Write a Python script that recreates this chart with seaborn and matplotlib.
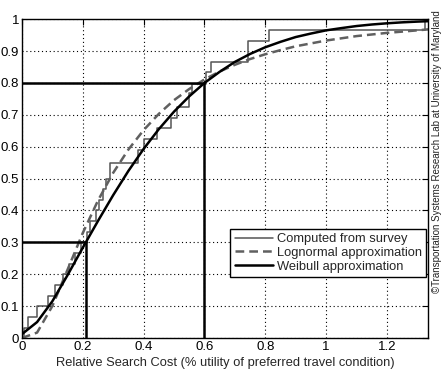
import numpy as np
import pandas as pd
import seaborn as sns
import matplotlib.pyplot as plt
from matplotlib.ticker import FormatStrFormatter

# Empirical CDF computed from survey (jump positions and levels)
survey_x = [0.0, 0.008, 0.02, 0.05, 0.085, 0.11, 0.135, 0.155, 0.175, 0.195,
            0.215, 0.225, 0.245, 0.255, 0.265, 0.275, 0.29, 0.38, 0.40, 0.445,
            0.49, 0.51, 0.55, 0.56, 0.605, 0.62, 0.743, 0.813, 1.325]
survey_y = [0.0, 0.033, 0.067, 0.10, 0.133, 0.167, 0.20, 0.233, 0.267, 0.30,
            0.333, 0.367, 0.40, 0.433, 0.467, 0.50, 0.55, 0.59, 0.623, 0.658,
            0.69, 0.725, 0.767, 0.796, 0.833, 0.867, 0.933, 0.967, 1.0]

# Fitted curves
curve_x = [0.0, 0.05, 0.10, 0.15, 0.20, 0.25, 0.30, 0.35, 0.40, 0.45, 0.50,
           0.55, 0.60, 0.65, 0.70, 0.75, 0.80, 0.85, 0.90, 0.95, 1.00, 1.05,
           1.10, 1.15, 1.20, 1.25, 1.30, 1.335]
lognormal_y = [0.0, 0.017, 0.100, 0.214, 0.329, 0.431, 0.518, 0.591, 0.652,
               0.703, 0.746, 0.781, 0.811, 0.836, 0.857, 0.875, 0.890, 0.903,
               0.915, 0.924, 0.933, 0.940, 0.947, 0.952, 0.957, 0.961, 0.965,
               0.968]
weibull_y = [0.012, 0.050, 0.115, 0.197, 0.283, 0.367, 0.448, 0.524, 0.593,
             0.655, 0.710, 0.758, 0.800, 0.835, 0.866, 0.891, 0.912, 0.929,
             0.944, 0.955, 0.965, 0.972, 0.9785, 0.9833, 0.9871, 0.9901,
             0.9924, 0.9937]

# Reference points marked on the chart
ref_x = [0.21, 0.6]
ref_y = [0.3, 0.8]

sns.set_style("white")
plt.rcParams['font.family'] = ['Liberation Sans', 'DejaVu Sans']

fig = plt.figure(figsize=(4.46, 3.76), dpi=100)
ax = fig.add_axes([0.049, 0.101, 0.911, 0.848])

survey = pd.DataFrame({'x': survey_x, 'y': survey_y})
fits = pd.DataFrame({'x': curve_x, 'logn': lognormal_y, 'weib': weibull_y})

sns.lineplot(data=survey, x='x', y='y', ax=ax, color='#555555', lw=1.1,
             drawstyle='steps-post', label='Computed from survey')
sns.lineplot(data=fits, x='x', y='logn', ax=ax, color='#606060', lw=1.8,
             dashes=False, linestyle=(0, (3.5, 2)), label='Lognormal approximation')
sns.lineplot(data=fits, x='x', y='weib', ax=ax, color='black', lw=1.8,
             label='Weibull approximation')

# reference lines
for rx, ry in zip(ref_x, ref_y):
    ax.plot([0, rx], [ry, ry], color='black', lw=1.8, zorder=3)
    ax.plot([rx, rx], [0, ry], color='black', lw=1.8, zorder=3)

ax.set_xlim(0, 1.335)
ax.set_ylim(0, 1)
ax.set_xticks(np.arange(0, 1.21, 0.2))
ax.set_yticks(np.arange(0, 1.01, 0.1))
ax.xaxis.set_major_formatter(FormatStrFormatter('%g'))
ax.yaxis.set_major_formatter(FormatStrFormatter('%g'))
ax.grid(True, color='black', linestyle=(0, (1, 2.5)), lw=0.8)
ax.tick_params(direction='in', length=4, width=0.8, top=True, right=True,
               labelsize=9.5, pad=2, colors='black')
for s in ax.spines.values():
    s.set_color('black')
    s.set_linewidth(1)

ax.set_xlabel('Relative Search Cost (% utility of preferred travel condition)',
              fontsize=9.3, labelpad=3)
ax.set_ylabel('')

leg = ax.legend(loc='lower right', bbox_to_anchor=(0.995, 0.191),
                fontsize=9.3, frameon=True, fancybox=False,
                framealpha=1, edgecolor='black', handlelength=3.0,
                labelspacing=0.12, borderpad=0.35, borderaxespad=0,
                handletextpad=0.25)
leg.get_frame().set_linewidth(1)

fig.text(0.979, 0.598, '\u00a9Transportation Systems Research Lab at University of Maryland',
         rotation=90, fontsize=7.0, ha='center', va='center', color='#222222')

fig.savefig('out.png', dpi=100)
